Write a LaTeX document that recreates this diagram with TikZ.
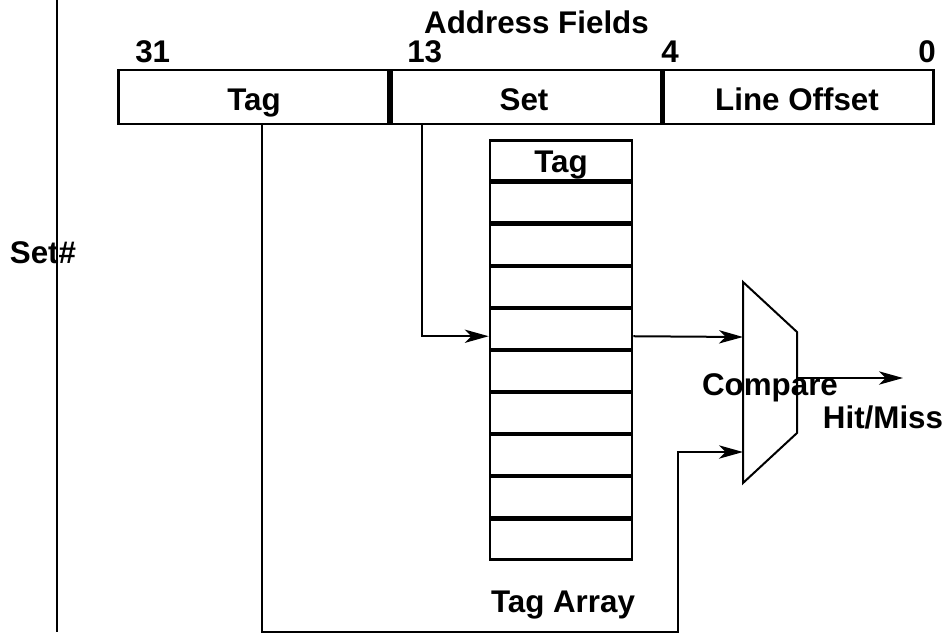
\documentclass[tikz,border=0pt]{standalone}
\usepackage{fontspec}
\setmainfont{Liberation Sans}
\usetikzlibrary{calc}
\usetikzlibrary{arrows.meta}
\tikzset{
  field/.style={draw,line width=2pt,minimum width=202.5pt,minimum height=40.5pt,inner sep=0pt},
  cell/.style={draw,line width=2pt,minimum width=106.5pt,minimum height=30.3pt,inner sep=0pt},
  lbl/.style={font=\fontsize{23.5}{28}\selectfont\bfseries,anchor=base,inner sep=0pt},
  wire/.style={line width=1.5pt},
  arr/.style={wire,-{Stealth[length=18pt,width=10pt,inset=5pt]}}
}

\begin{document}
\begin{tikzpicture}[x=0.75pt,y=-0.75pt]
\useasboundingbox (0,0) rectangle (949,632);

% address word
\node[field] (ftag) at (253.5,97) {};
\node[field] (fset) at (526.5,97) {};
\node[field] (foff) at (798.5,97) {};
\node[lbl] at (536.5,33) {Address Fields};
\node[lbl,anchor=base west] at (135,62) {31};
\node[lbl,anchor=base west] at (407,62) {13};
\node[lbl,anchor=base west] at (661,62) {4};
\node[lbl,anchor=base east] at (936,62) {0};
\node[lbl] at (254,110) {Tag};
\node[lbl] at (524,110) {Set};
\node[lbl] at (797,110) {Line Offset};

% tag array
\foreach \i in {1,...,10}
  \node[cell] (c\i) at (561,{140+(\i-1)*42.1+20.5}) {};
\node[lbl] at (561,172) {Tag};
\node[lbl] at (563,612) {Tag Array};

% comparator
\coordinate (cmp1) at (743,282);
\coordinate (cmp2) at (797,332);
\coordinate (cmp3) at (797,433);
\coordinate (cmp4) at (743,483);
\coordinate (cmpA) at (743,337);
\coordinate (cmpB) at (743,452);
\coordinate (cmpOut) at (797,378);
\coordinate (hit) at (903,378);
\node[lbl] at (770,395) {Compare};
\node[lbl] at (883,428) {Hit/Miss};
\draw[wire] (cmp1)--(cmp2)--(cmp3)--(cmp4)--cycle;

% set index and tag paths
\coordinate (setdrop) at (422,124);
\coordinate (bot) at (678,631.5);
\draw[arr] (setdrop) |- ([yshift=-5.5pt]c5.west);
\draw[arr] ([yshift=-5.5pt]c5.east) -- (cmpA);
\draw[arr] ([xshift=6.4pt]ftag.south) |- (bot) |- (cmpB);
\draw[arr] (cmpOut) -- (hit);

\draw[wire] (57,0) -- (57,632);
\node[lbl] at (43,263) {Set\#};

\end{tikzpicture}
\end{document}
